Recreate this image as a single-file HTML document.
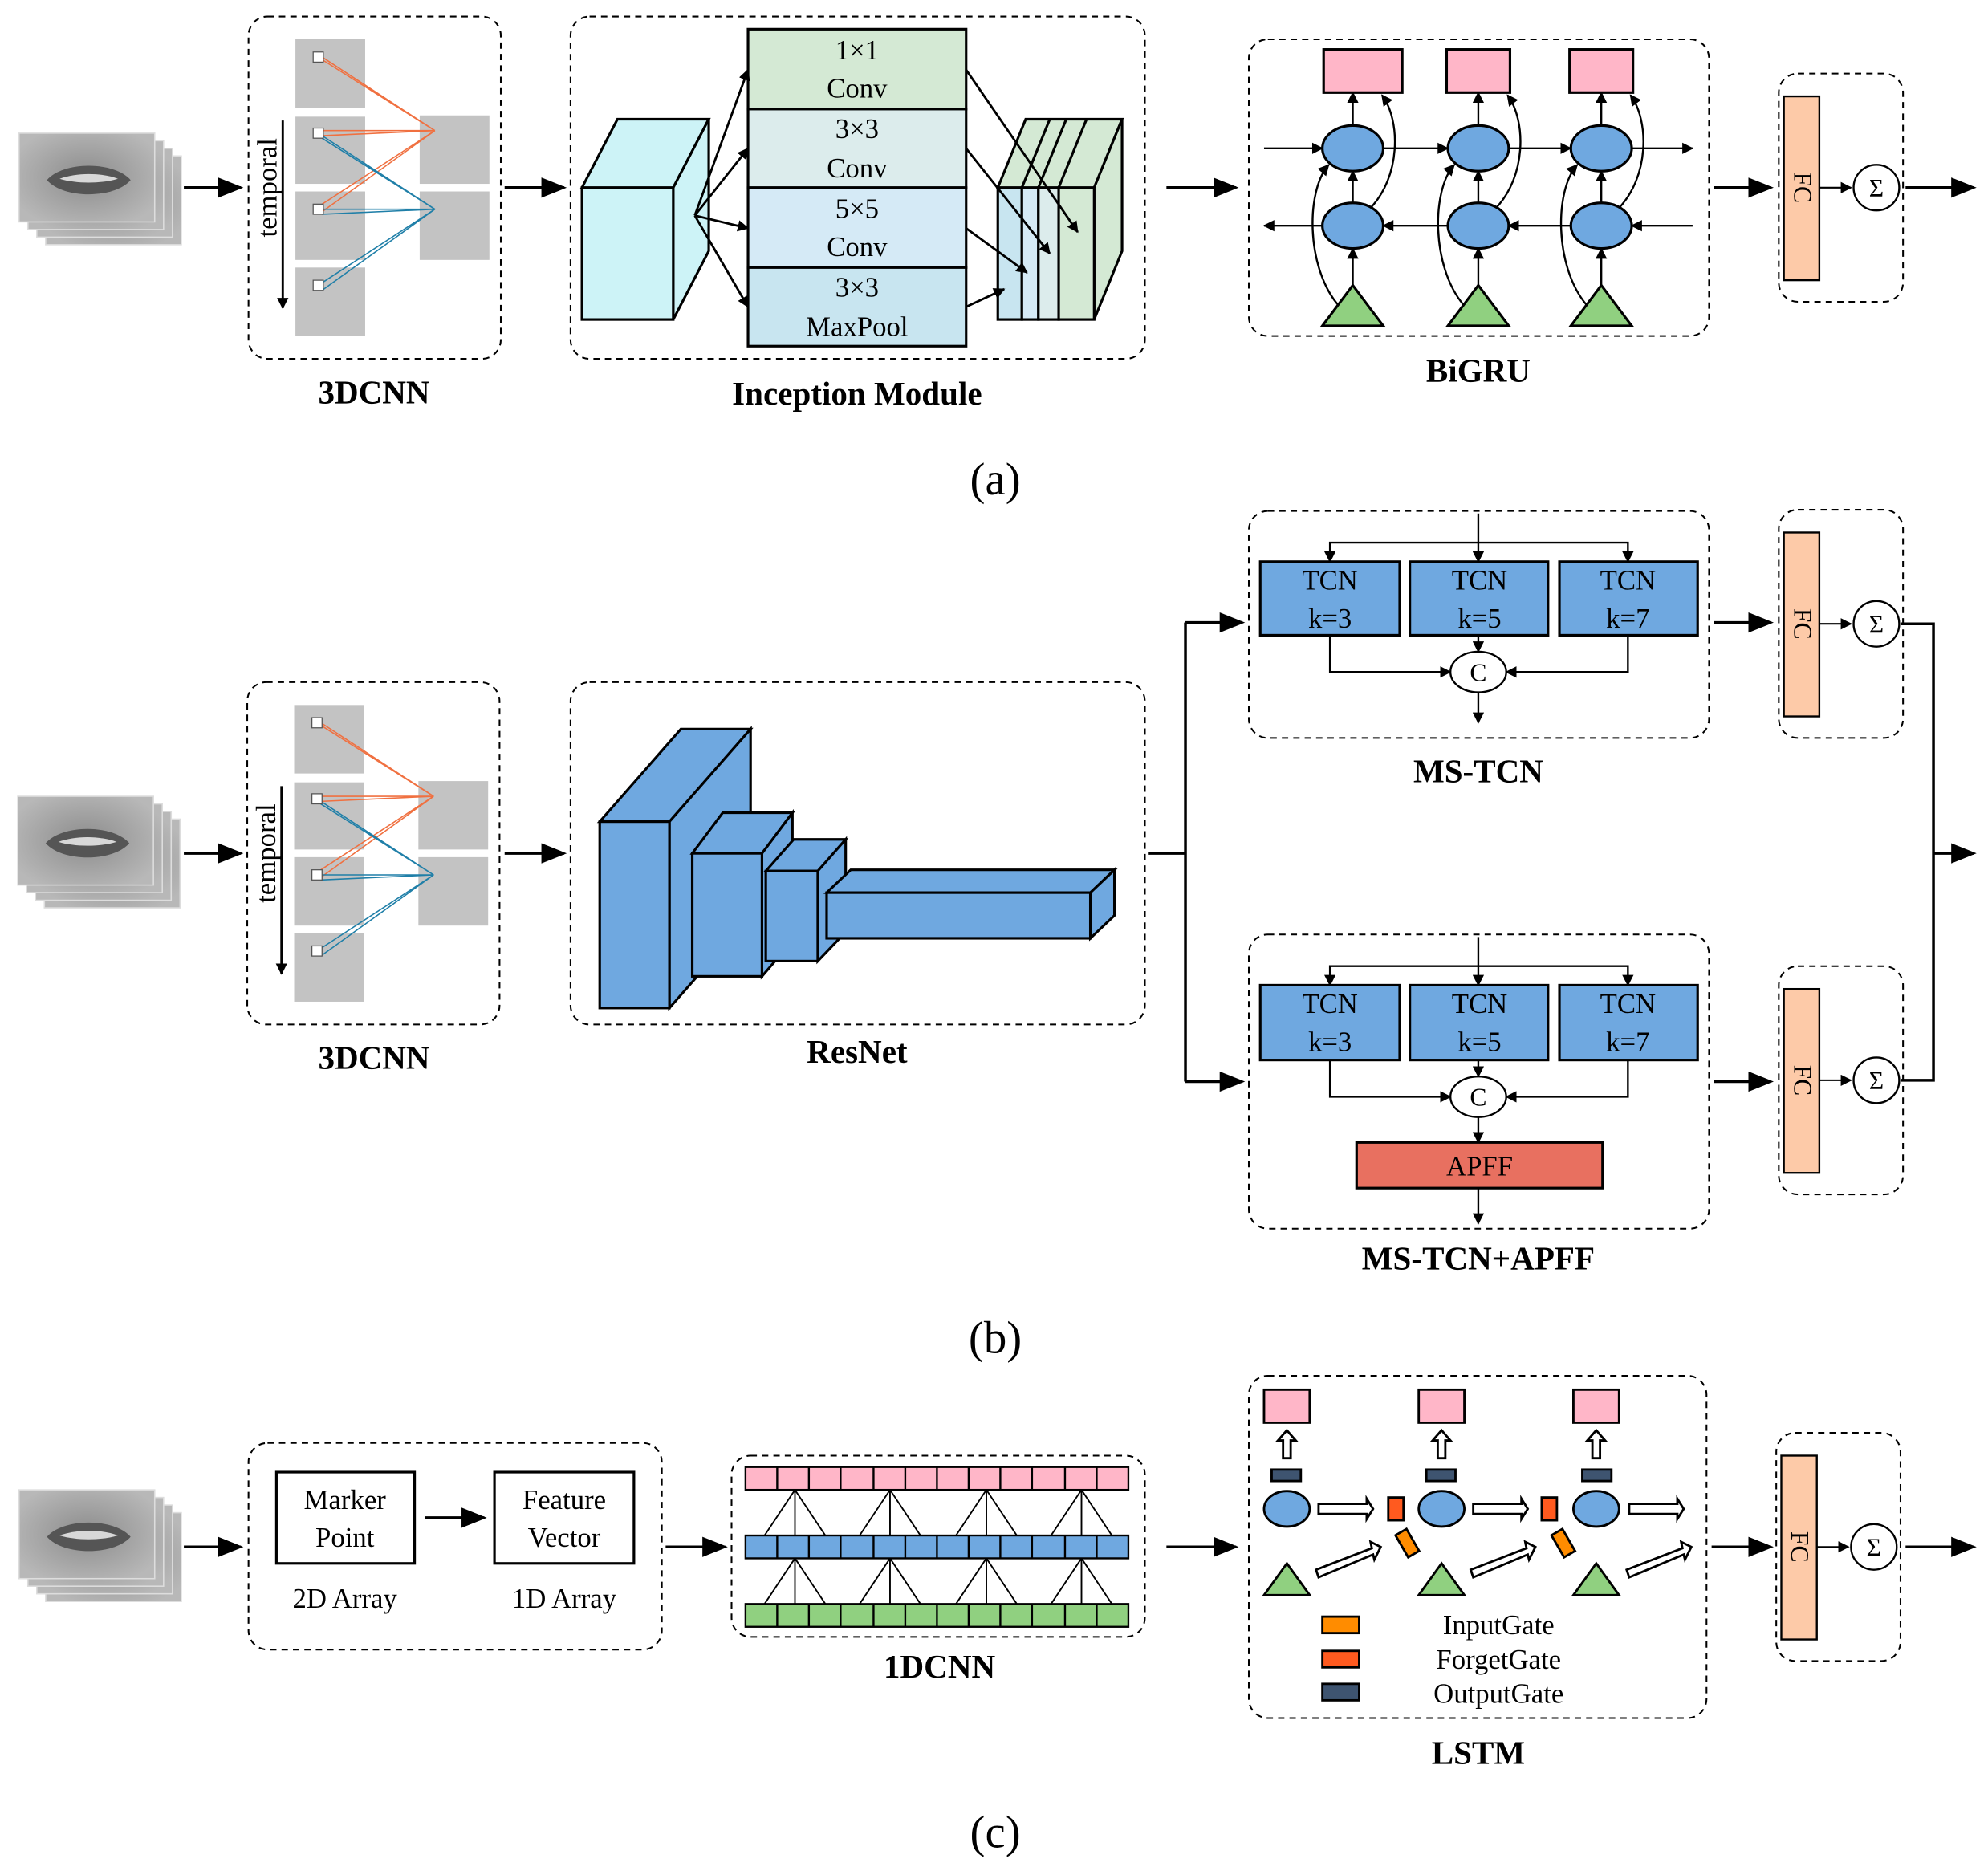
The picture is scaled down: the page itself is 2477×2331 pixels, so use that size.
<!DOCTYPE html>
<html><head><meta charset="utf-8"><style>html,body{margin:0;padding:0;background:#fff}svg{display:block}svg text{font-family:"Liberation Serif",serif}</style></head><body>
<svg xmlns="http://www.w3.org/2000/svg" xmlns:xlink="http://www.w3.org/1999/xlink" width="2477" height="2331" viewBox="0 0 1568 1475.6" style="font-family:'Liberation Serif',serif">
<defs>
<marker id="ah" viewBox="0 0 10 10" refX="9" refY="5" markerWidth="9" markerHeight="9" markerUnits="userSpaceOnUse" orient="auto"><path d="M0,0L10,5L0,10z" fill="#000"/></marker>
<marker id="AH" viewBox="0 0 10 10" refX="9" refY="5" markerWidth="20" markerHeight="20" markerUnits="userSpaceOnUse" orient="auto"><path d="M0,1L10,5L0,9z" fill="#000"/></marker>
<radialGradient id="mg" cx="0.5" cy="0.5" r="0.6"><stop offset="0" stop-color="#8c8c8c"/><stop offset="1" stop-color="#b8b8b8"/></radialGradient>
<g id="frame"><rect width="107" height="70" fill="url(#mg)" stroke="#ddd" stroke-width="1"/><path d="M22,37C35,22 75,22 88,37C75,52 35,52 22,37Z" fill="#555"/><path d="M32,36C45,31 65,31 78,36C65,40 45,40 32,36Z" fill="#d8d8d8"/></g>
<g id="mouth"><use xlink:href="#frame" x="21" y="18"/><use xlink:href="#frame" x="14" y="12"/><use xlink:href="#frame" x="7" y="6"/><use xlink:href="#frame" x="0" y="0"/></g>
<g id="cnn3d">
<rect x="0" y="0" width="199" height="270" rx="15" fill="none" stroke="#000" stroke-dasharray="5,4" stroke-width="1.3"/>
<rect x="37" y="18" width="55" height="54" fill="#c3c3c3"/><rect x="37" y="79" width="55" height="53" fill="#c3c3c3"/><rect x="37" y="138" width="55" height="54" fill="#c3c3c3"/><rect x="37" y="198" width="55" height="54" fill="#c3c3c3"/>
<rect x="135" y="78" width="55" height="54" fill="#c3c3c3"/><rect x="135" y="138" width="55" height="54" fill="#c3c3c3"/>
<g stroke="#f07040" stroke-width="1"><path d="M55,30L147,90M58,34L147,90M55,90L147,90M58,94L147,90M55,150L147,90M58,154L147,90"/></g>
<g stroke="#1f7fa8" stroke-width="1"><path d="M55,92L147,152M58,96L147,152M55,152L147,152M58,156L147,152M55,212L147,152M58,216L147,152"/></g>
<g fill="#fff" stroke="#555" stroke-width="0.8"><rect x="51" y="28" width="8" height="8"/><rect x="51" y="88" width="8" height="8"/><rect x="51" y="148" width="8" height="8"/><rect x="51" y="208" width="8" height="8"/></g>
<line x1="27" y1="82" x2="27" y2="230" stroke="#000" stroke-width="1.8" marker-end="url(#ah)"/>
<text transform="translate(22,135) rotate(-90)" font-size="22" text-anchor="middle">temporal</text>
</g>
<g id="fcbox">
<rect x="0" y="0" width="98" height="180" rx="15" fill="none" stroke="#000" stroke-dasharray="5,4" stroke-width="1.3"/>
<rect x="4" y="18" width="28" height="145" fill="#fdcaa8" stroke="#000" stroke-width="1.5"/>
<text transform="translate(12,90) rotate(90)" font-size="20" text-anchor="middle">FC</text>
<line x1="32" y1="90" x2="57" y2="90" stroke="#000" stroke-width="1.3" marker-end="url(#ah)"/>
<circle cx="77" cy="90" r="18" fill="#fff" stroke="#000" stroke-width="1.5"/>
<text x="77" y="97" font-size="20" text-anchor="middle">Σ</text>
</g>
</defs>

<g stroke="#000" stroke-width="2.2" fill="none">
<line x1="145" y1="148" x2="190" y2="148" marker-end="url(#AH)"/>
<line x1="398" y1="148" x2="445" y2="148" marker-end="url(#AH)"/>
<line x1="920" y1="148" x2="975" y2="148" marker-end="url(#AH)"/>
<line x1="1352" y1="148" x2="1397" y2="148" marker-end="url(#AH)"/>
<line x1="1503" y1="148" x2="1557" y2="148" marker-end="url(#AH)"/>
<line x1="145" y1="673" x2="190" y2="673" marker-end="url(#AH)"/>
<line x1="398" y1="673" x2="445" y2="673" marker-end="url(#AH)"/>
<path d="M906,673H935M935,491V853"/>
<line x1="935" y1="491" x2="980" y2="491" marker-end="url(#AH)"/>
<line x1="935" y1="853" x2="980" y2="853" marker-end="url(#AH)"/>
<line x1="1352" y1="491" x2="1397" y2="491" marker-end="url(#AH)"/>
<line x1="1352" y1="853" x2="1397" y2="853" marker-end="url(#AH)"/>
<path d="M1499,492H1525V852H1499"/>
<line x1="1525" y1="673" x2="1557" y2="673" marker-end="url(#AH)"/>
<line x1="145" y1="1220" x2="190" y2="1220" marker-end="url(#AH)"/>
<line x1="525" y1="1220" x2="572" y2="1220" marker-end="url(#AH)"/>
<line x1="920" y1="1220" x2="975" y2="1220" marker-end="url(#AH)"/>
<line x1="1350" y1="1220" x2="1397" y2="1220" marker-end="url(#AH)"/>
<line x1="1503" y1="1220" x2="1557" y2="1220" marker-end="url(#AH)"/>
<line x1="335" y1="1197" x2="382" y2="1197" marker-end="url(#AH)"/>
</g>

<use xlink:href="#mouth" x="15" y="105"/>
<use xlink:href="#mouth" x="14" y="628"/>
<use xlink:href="#mouth" x="15" y="1175"/>

<use xlink:href="#cnn3d" x="196" y="13"/>
<use xlink:href="#cnn3d" x="195" y="538"/>
<text x="295" y="318" font-size="26" font-weight="bold" text-anchor="middle">3DCNN</text>
<text x="295" y="843" font-size="26" font-weight="bold" text-anchor="middle">3DCNN</text>

<rect x="450" y="13" width="453" height="270" rx="15" fill="none" stroke="#000" stroke-dasharray="5,4" stroke-width="1.3"/>
<g stroke="#000" stroke-width="2" fill="#cdf3f7">
<path d="M459,148L487,94H559L531,148Z"/><path d="M531,148L559,94V198L531,252Z"/><rect x="459" y="148" width="72" height="104"/>
</g>
<g stroke="#000" stroke-width="2">
<rect x="590" y="23" width="172" height="63" fill="#d4e9d4"/>
<rect x="590" y="86" width="172" height="62" fill="#dcecec"/>
<rect x="590" y="148" width="172" height="63" fill="#d5eaf6"/>
<rect x="590" y="211" width="172" height="62" fill="#c8e5f0"/>
</g>
<g font-size="22" text-anchor="middle">
<text x="676" y="47">1×1</text><text x="676" y="77">Conv</text>
<text x="676" y="109">3×3</text><text x="676" y="140">Conv</text>
<text x="676" y="172">5×5</text><text x="676" y="202">Conv</text>
<text x="676" y="234">3×3</text><text x="676" y="265">MaxPool</text>
</g>
<g stroke="#000" stroke-width="2">
<path d="M787,148L809,94H885L863,148Z" fill="#d4e9d4"/><path d="M863,148L885,94V198L863,252Z" fill="#d4e9d4"/>
<rect x="787" y="148" width="19" height="104" fill="#c8e5f0"/><rect x="806" y="148" width="13" height="104" fill="#d5eaf6"/><rect x="819" y="148" width="16" height="104" fill="#dcecec"/><rect x="835" y="148" width="28" height="104" fill="#d4e9d4"/>
<path d="M806,148L828,94M819,148L841,94M835,148L857,94" fill="none"/>
</g>
<g stroke="#000" stroke-width="1.8" marker-end="url(#ah)">
<line x1="548" y1="170" x2="590" y2="55"/><line x1="548" y1="170" x2="590" y2="117"/><line x1="548" y1="170" x2="590" y2="180"/><line x1="548" y1="170" x2="590" y2="242"/>
<line x1="762" y1="55" x2="850" y2="183"/><line x1="762" y1="117" x2="828" y2="200"/><line x1="762" y1="180" x2="810" y2="215"/><line x1="762" y1="242" x2="792" y2="228"/>
</g>
<text x="676" y="319" font-size="26" font-weight="bold" text-anchor="middle">Inception Module</text>

<rect x="985" y="31" width="363" height="234" rx="15" fill="none" stroke="#000" stroke-dasharray="5,4" stroke-width="1.3"/>
<g stroke="#000" stroke-width="1.5" fill="none" marker-end="url(#ah)">
<line x1="997" y1="117" x2="1043" y2="117"/><line x1="1091" y1="117" x2="1142" y2="117"/><line x1="1190" y1="117" x2="1239" y2="117"/><line x1="1287" y1="117" x2="1335" y2="117"/>
<line x1="1335" y1="178" x2="1287" y2="178"/><line x1="1239" y1="178" x2="1190" y2="178"/><line x1="1142" y1="178" x2="1091" y2="178"/><line x1="1043" y1="178" x2="997" y2="178"/>
<line x1="1067" y1="225" x2="1067" y2="196"/><line x1="1166" y1="225" x2="1166" y2="196"/><line x1="1263" y1="225" x2="1263" y2="196"/>
<line x1="1067" y1="160" x2="1067" y2="135"/><line x1="1166" y1="160" x2="1166" y2="135"/><line x1="1263" y1="160" x2="1263" y2="135"/>
<line x1="1067" y1="99" x2="1067" y2="73"/><line x1="1166" y1="99" x2="1166" y2="73"/><line x1="1263" y1="99" x2="1263" y2="73"/>
<path d="M1055,240C1030,210 1030,150 1048,130"/><path d="M1154,240C1129,210 1129,150 1147,130"/><path d="M1251,240C1226,210 1226,150 1244,130"/>
<path d="M1080,165C1105,140 1105,95 1090,75"/><path d="M1179,165C1204,140 1204,95 1189,75"/><path d="M1276,165C1301,140 1301,95 1286,75"/>
</g>
<g stroke="#000" stroke-width="2">
<rect x="1044" y="39" width="62" height="34" fill="#ffb6c8"/><rect x="1141" y="39" width="50" height="34" fill="#ffb6c8"/><rect x="1238" y="39" width="50" height="34" fill="#ffb6c8"/>
<g fill="#6fa8e0"><ellipse cx="1067" cy="117" rx="24" ry="18"/><ellipse cx="1166" cy="117" rx="24" ry="18"/><ellipse cx="1263" cy="117" rx="24" ry="18"/>
<ellipse cx="1067" cy="178" rx="24" ry="18"/><ellipse cx="1166" cy="178" rx="24" ry="18"/><ellipse cx="1263" cy="178" rx="24" ry="18"/></g>
<g fill="#90d080"><path d="M1067,225L1091,257H1043Z"/><path d="M1166,225L1190,257H1142Z"/><path d="M1263,225L1287,257H1239Z"/></g>
</g>
<text x="1166" y="301" font-size="26" font-weight="bold" text-anchor="middle">BiGRU</text>
<use xlink:href="#fcbox" x="1403" y="58"/>
<text x="785" y="390" font-size="36" text-anchor="middle">(a)</text>

<rect x="450" y="538" width="453" height="270" rx="15" fill="none" stroke="#000" stroke-dasharray="5,4" stroke-width="1.3"/>
<g stroke="#000" stroke-width="2" fill="#6fa8e0">
<path d="M473,648L537,575H592L528,648Z"/><path d="M528,648L592,575V722L528,795Z"/><rect x="473" y="648" width="55" height="147"/>
<path d="M546,673L570,641H625L601,673Z"/><path d="M601,673L625,641V742L601,770Z"/><rect x="546" y="673" width="55" height="97"/>
<path d="M604,687L626,662H667L645,687Z"/><path d="M645,687L667,662V735L645,758Z"/><rect x="604" y="687" width="41" height="71"/>
<path d="M652,704L671,686H879L860,704Z"/><path d="M860,704L879,686V722L860,740Z"/><rect x="652" y="704" width="208" height="36"/>
</g>
<text x="676" y="838" font-size="26" font-weight="bold" text-anchor="middle">ResNet</text>

<rect x="985" y="403" width="363" height="179" rx="15" fill="none" stroke="#000" stroke-dasharray="5,4" stroke-width="1.3"/>
<rect x="985" y="737" width="363" height="232" rx="15" fill="none" stroke="#000" stroke-dasharray="5,4" stroke-width="1.3"/>
<g stroke="#000" stroke-width="1.5" fill="none" marker-end="url(#ah)">
<path d="M1166,405V443"/><path d="M1166,428H1049V443"/><path d="M1166,428H1284V443"/>
<path d="M1049,501V530H1144"/><path d="M1284,501V530H1188"/><path d="M1166,501V514"/><path d="M1166,546V570"/>
<path d="M1166,739V777"/><path d="M1166,762H1049V777"/><path d="M1166,762H1284V777"/>
<path d="M1049,836V865H1144"/><path d="M1284,836V865H1188"/><path d="M1166,836V849"/><path d="M1166,881V901"/><path d="M1166,937V965"/>
</g>
<g stroke="#000" stroke-width="2" fill="#6fa8e0">
<rect x="994" y="443" width="110" height="58"/><rect x="1112" y="443" width="109" height="58"/><rect x="1230" y="443" width="109" height="58"/>
<rect x="994" y="777" width="110" height="59"/><rect x="1112" y="777" width="109" height="59"/><rect x="1230" y="777" width="109" height="59"/>
</g>
<rect x="1070" y="901" width="194" height="36" fill="#e87060" stroke="#000" stroke-width="2"/>
<g stroke="#000" stroke-width="1.5" fill="#fff"><ellipse cx="1166" cy="530" rx="22" ry="16"/><ellipse cx="1166" cy="865" rx="22" ry="16"/></g>
<g font-size="22" text-anchor="middle">
<text x="1049" y="465">TCN</text><text x="1049" y="495">k=3</text><text x="1167" y="465">TCN</text><text x="1167" y="495">k=5</text><text x="1284" y="465">TCN</text><text x="1284" y="495">k=7</text>
<text x="1049" y="799">TCN</text><text x="1049" y="829">k=3</text><text x="1167" y="799">TCN</text><text x="1167" y="829">k=5</text><text x="1284" y="799">TCN</text><text x="1284" y="829">k=7</text>
<text x="1166" y="537" font-size="20">C</text><text x="1166" y="872" font-size="20">C</text>
<text x="1167" y="927">APFF</text>
</g>
<text x="1166" y="617" font-size="26" font-weight="bold" text-anchor="middle">MS-TCN</text>
<text x="1166" y="1001" font-size="26" font-weight="bold" text-anchor="middle">MS-TCN+APFF</text>
<use xlink:href="#fcbox" x="1403" y="402"/>
<use xlink:href="#fcbox" x="1403" y="762"/>
<text x="785" y="1067" font-size="36" text-anchor="middle">(b)</text>

<rect x="196" y="1138" width="326" height="163" rx="15" fill="none" stroke="#000" stroke-dasharray="5,4" stroke-width="1.3"/>
<rect x="218" y="1161" width="109" height="72" fill="#fff" stroke="#000" stroke-width="2"/>
<rect x="390" y="1161" width="110" height="72" fill="#fff" stroke="#000" stroke-width="2"/>
<g font-size="22" text-anchor="middle">
<text x="272" y="1190">Marker</text><text x="272" y="1220">Point</text>
<text x="445" y="1190">Feature</text><text x="445" y="1220">Vector</text>
<text x="272" y="1268">2D Array</text><text x="445" y="1268">1D Array</text>
</g>
<rect x="577" y="1148" width="326" height="143" rx="15" fill="none" stroke="#000" stroke-dasharray="5,4" stroke-width="1.3"/>
<g stroke="#000" stroke-width="1.2" fill="none">
<path d="M627,1175L603,1211M627,1175L627,1211M627,1175L651,1211M702,1175L678,1211M702,1175L702,1211M702,1175L726,1211M778,1175L754,1211M778,1175L778,1211M778,1175L802,1211M853,1175L829,1211M853,1175L853,1211M853,1175L877,1211"/>
<path d="M627,1229L603,1265M627,1229L627,1265M627,1229L651,1265M702,1229L678,1265M702,1229L702,1265M702,1229L726,1265M778,1229L754,1265M778,1229L778,1265M778,1229L802,1265M853,1229L829,1265M853,1229L853,1265M853,1229L877,1265"/>
</g>
<g stroke="#000" stroke-width="1.5">
<rect x="588" y="1157" width="302" height="18" fill="#ffb6c8"/><rect x="588" y="1211" width="302" height="18" fill="#6fa8e0"/><rect x="588" y="1265" width="302" height="18" fill="#90d080"/>
<path d="M613,1157V1175M638,1157V1175M663,1157V1175M689,1157V1175M714,1157V1175M739,1157V1175M764,1157V1175M789,1157V1175M814,1157V1175M840,1157V1175M865,1157V1175"/>
<path d="M613,1211V1229M638,1211V1229M663,1211V1229M689,1211V1229M714,1211V1229M739,1211V1229M764,1211V1229M789,1211V1229M814,1211V1229M840,1211V1229M865,1211V1229"/>
<path d="M613,1265V1283M638,1265V1283M663,1265V1283M689,1265V1283M714,1265V1283M739,1265V1283M764,1265V1283M789,1265V1283M814,1265V1283M840,1265V1283M865,1265V1283"/>
</g>
<text x="741" y="1323" font-size="26" font-weight="bold" text-anchor="middle">1DCNN</text>

<rect x="985" y="1085" width="361" height="270" rx="15" fill="none" stroke="#000" stroke-dasharray="5,4" stroke-width="1.3"/>
<g stroke="#000" stroke-width="1.8">
<g fill="#ffb6c8"><rect x="997" y="1096" width="36" height="26"/><rect x="1119" y="1096" width="36" height="26"/><rect x="1241" y="1096" width="36" height="26"/></g>
<g fill="#fff"><path d="M1012,1150V1136H1008L1015,1128L1022,1136H1018V1150Z"/><path d="M1134,1150V1136H1130L1137,1128L1144,1136H1140V1150Z"/><path d="M1256,1150V1136H1252L1259,1128L1266,1136H1262V1150Z"/></g>
<g fill="#3e5470"><rect x="1003" y="1159" width="23" height="9"/><rect x="1125" y="1159" width="23" height="9"/><rect x="1248" y="1159" width="23" height="9"/><rect x="1043" y="1328" width="29" height="13"/></g>
<g fill="#6fa8e0"><ellipse cx="1015" cy="1190" rx="18" ry="14"/><ellipse cx="1137" cy="1190" rx="18" ry="14"/><ellipse cx="1259" cy="1190" rx="18" ry="14"/></g>
<g fill="#fff"><path d="M1040,1186H1078V1182L1083,1190L1078,1198V1194H1040Z"/><path d="M1162,1186H1200V1182L1205,1190L1200,1198V1194H1162Z"/><path d="M1285,1186H1323V1182L1328,1190L1323,1198V1194H1285Z"/>
<path d="M1038,1238L1082,1221L1081,1216L1089,1220L1084,1230L1083,1226L1040,1244Z"/><path d="M1160,1238L1204,1221L1203,1216L1211,1220L1206,1230L1205,1226L1162,1244Z"/><path d="M1283,1238L1327,1221L1326,1216L1334,1220L1329,1230L1328,1226L1285,1244Z"/></g>
<g fill="#ff5a1f"><rect x="1095" y="1181" width="12" height="18"/><rect x="1216" y="1181" width="12" height="18"/><rect x="1043" y="1302" width="29" height="13"/></g>
<g fill="#ff8c00"><rect x="1105" y="1207" width="10" height="20" transform="rotate(-30 1110 1217)"/><rect x="1228" y="1207" width="10" height="20" transform="rotate(-30 1233 1217)"/><rect x="1043" y="1275" width="29" height="13"/></g>
<g fill="#90d080"><path d="M1015,1233L1033,1258H997Z"/><path d="M1137,1233L1155,1258H1119Z"/><path d="M1259,1233L1277,1258H1241Z"/></g>
</g>
<g font-size="22" text-anchor="middle"><text x="1182" y="1289">InputGate</text><text x="1182" y="1316">ForgetGate</text><text x="1182" y="1343">OutputGate</text></g>
<text x="1166" y="1391" font-size="26" font-weight="bold" text-anchor="middle">LSTM</text>
<use xlink:href="#fcbox" x="1401" y="1130"/>
<text x="785" y="1457" font-size="36" text-anchor="middle">(c)</text>
</svg>
</body></html>
